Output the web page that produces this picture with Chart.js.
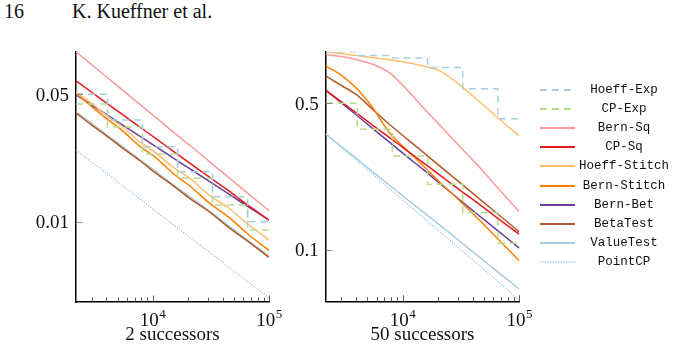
<!DOCTYPE html>
<html>
<head>
<meta charset="utf-8">
<script src="https://cdn.jsdelivr.net/npm/chart.js@4.4.0/dist/chart.umd.min.js"></script>
<style>
  body { margin: 0; width: 675px; height: 350px; background: #fff; position: relative; overflow: hidden; font-family: "Liberation Serif", serif; }
  canvas { position: absolute; top: 0; }
  #c2 { left: 0; }
  #c50 { left: 280px; }
  .hdr { position: absolute; top: 0px; font-size: 20px; color: #111; }
  #legend { position: absolute; left: 538px; top: 80px; }
  .row { height: 19.2px; display: flex; align-items: center; }
  .row span { font-family: "Liberation Mono", monospace; font-size: 12.5px; width: 94px; text-align: center; color: #111; }
</style>
</head>
<body>
<div class="hdr" style="left:4px">16</div>
<div class="hdr" style="left:72px">K. Kueffner et al.</div>
<canvas id="c2" width="290" height="350"></canvas>
<canvas id="c50" width="260" height="350"></canvas>
<div id="legend"></div>
<script>
// legend order
const names = ["Hoeff-Exp", "CP-Exp", "Bern-Sq", "CP-Sq", "Hoeff-Stitch", "Bern-Stitch", "Bern-Bet", "BetaTest", "ValueTest", "PointCP"];
const colors = ["#a6cee3", "#b2df8a", "#fb9a99", "#e31a1c", "#fdbf6f", "#ff7f00", "#6a3d9a", "#b15928", "#a6cee3", "#8ab8d8"];
const dashes = [[7, 5], [7, 5], [], [], [], [], [], [], [], [1, 1.6]];

// x values (number of samples)
const nSteps = [2200, 4096, 8192, 16384, 32768, 65536, 100000];
const nGrid = [2200, 3000, 4000, 5500, 7800, 11000, 15000, 21000, 31000, 45000, 65000, 100000];

// 2 successors
const hoeffExp2 = [0.05, 0.0361, 0.0258, 0.0188, 0.0137, 0.0100, 0.0100];
const cpExp2 = [0.0442, 0.0331, 0.0235, 0.0173, 0.01235, 0.0090, 0.0090];
const bernSq2 = [0.0856, 0.0727, 0.0624, 0.0529, 0.0440, 0.0367, 0.0311, 0.0262, 0.0213, 0.0175, 0.0144, 0.0115];
const cpSq2 = [0.0592, 0.0513, 0.0449, 0.0388, 0.0330, 0.0282, 0.0244, 0.0209, 0.0175, 0.0148, 0.0124, 0.0102];
const hoeffStitch2 = [0.0516, 0.0447, 0.0383, 0.0332, 0.0274, 0.0235, 0.0199, 0.0173, 0.0139, 0.0119, 0.00975, 0.00796];
const bernStitch2 = [0.0506, 0.0428, 0.0369, 0.0316, 0.0259, 0.0221, 0.0184, 0.0157, 0.0126, 0.0106, 0.00862, 0.00695];
const bernBet2 = [0.0497, 0.0437, 0.0388, 0.0340, 0.0294, 0.0255, 0.0224, 0.0195, 0.0166, 0.0142, 0.0122, 0.0102];
const betaTest2 = [0.0395, 0.0339, 0.0297, 0.0254, 0.0216, 0.0182, 0.0158, 0.0134, 0.0113, 0.00932, 0.00786, 0.00638];
const valueTest2 = [0.0401, 0.0346, 0.0301, 0.0259, 0.0219, 0.0186, 0.0160, 0.0137, 0.0114, 0.00951, 0.00796, 0.00649];
const pointCP2 = [0.0247, 0.0212, 0.0185, 0.0158, 0.0133, 0.0112, 0.00966, 0.00820, 0.00678, 0.00565, 0.00472, 0.00382];

// 50 successors
const hoeffExp50 = [0.88, 0.846, 0.823, 0.741, 0.587, 0.422, 0.422];
const cpExp50 = [0.5, 0.376, 0.2805, 0.206, 0.1506, 0.1077, 0.1077];
const bernSq50 = [0.854, 0.835, 0.808, 0.769, 0.697, 0.578, 0.4775, 0.392, 0.311, 0.250, 0.1985, 0.1522];
const cpSq50 = [0.578, 0.508, 0.451, 0.395, 0.342, 0.297, 0.261, 0.227, 0.193, 0.166, 0.142, 0.119];
const hoeffStitch50 = [0.880, 0.863, 0.846, 0.826, 0.807, 0.782, 0.753, 0.712, 0.611, 0.513, 0.428, 0.349];
const bernStitch50 = [0.753, 0.680, 0.593, 0.480, 0.360, 0.298, 0.252, 0.2097, 0.1712, 0.1397, 0.1134, 0.0889];
const bernBet50 = [0.578, 0.502, 0.441, 0.381, 0.325, 0.278, 0.242, 0.207, 0.173, 0.146, 0.124, 0.102];
const betaTest50 = [0.675, 0.608, 0.551, 0.470, 0.395, 0.3375, 0.2927, 0.2505, 0.2096, 0.1763, 0.1488, 0.1220];
const valueTest50 = [0.357, 0.311, 0.274, 0.237, 0.203, 0.174, 0.152, 0.131, 0.110, 0.0929, 0.0789, 0.0650];
const pointCP50 = [0.357, 0.308, 0.269, 0.231, 0.195, 0.166, 0.143, 0.122, 0.101, 0.0847, 0.0710, 0.0578];

// ticks
const xMajor = [10000, 100000];
const xMajorLabels = ["4", "5"];
const xMinor = [3000, 4000, 5000, 6000, 7000, 8000, 9000, 20000, 30000, 40000, 50000, 60000, 70000, 80000, 90000];
const yTicks2 = [0.05, 0.01];
const yTicks50 = [0.5, 0.1];

const serif = '"Liberation Serif", serif';

// ticks, tick labels and axis title, placed with the chart scales
const axisDeco = {
  id: "axisDeco",
  afterDraw(chart, args, opts) {
    const { ctx, chartArea: a } = chart;
    const x = chart.scales.x, y = chart.scales.y;
    ctx.save();
    ctx.strokeStyle = "#333";
    ctx.lineWidth = 0.8;
    xMinor.forEach((v) => {
      const px = Math.round(x.getPixelForValue(v)) + 0.5;
      ctx.beginPath(); ctx.moveTo(px, a.bottom); ctx.lineTo(px, a.bottom - 4.5); ctx.stroke();
    });
    xMajor.forEach((v) => {
      const px = Math.round(x.getPixelForValue(v)) + 0.5;
      ctx.beginPath(); ctx.moveTo(px, a.bottom); ctx.lineTo(px, a.bottom - 6.5); ctx.stroke();
    });
    opts.yTicks.forEach((v) => {
      const py = Math.round(y.getPixelForValue(v)) + 0.5;
      ctx.strokeStyle = "#777";
      ctx.beginPath(); ctx.moveTo(a.left, py); ctx.lineTo(a.left + 7, py); ctx.stroke();
    });
    ctx.fillStyle = "#111";
    ctx.textBaseline = "alphabetic";
    ctx.font = "19px " + serif;
    ctx.textAlign = "right";
    opts.yTicks.forEach((v) => {
      ctx.fillText(String(v), a.left - 7, y.getPixelForValue(v) + 6.5);
    });
    xMajor.forEach((v, i) => {
      const px = x.getPixelForValue(v);
      ctx.font = "19px " + serif;
      const w1 = ctx.measureText("10").width;
      ctx.font = "13px " + serif;
      const w2 = ctx.measureText(xMajorLabels[i]).width;
      const x0 = px - (w1 + w2) / 2;
      ctx.textAlign = "left";
      ctx.font = "19px " + serif;
      ctx.fillText("10", x0, a.bottom + 24);
      ctx.font = "13px " + serif;
      ctx.fillText(xMajorLabels[i], x0 + w1 + 0.5, a.bottom + 16);
    });
    ctx.font = "19px " + serif;
    ctx.textAlign = "center";
    ctx.fillText(opts.title, (a.left + a.right) / 2, a.bottom + 38);
    ctx.restore();
  },
};

function makeChart(id, series, yMin, yMax, yTicks, title, pad) {
  const datasets = names.map((name, i) => ({
    label: name,
    data: (i < 2 ? nSteps : nGrid).map((n, j) => ({ x: n, y: series[i][j] })),
    borderColor: colors[i],
    borderWidth: i === 9 ? 1.2 : 1.5,
    borderDash: dashes[i],
    stepped: i < 2 ? "before" : false,
    cubicInterpolationMode: "monotone",
    pointRadius: 0,
    fill: false,
  }));
  return new Chart(document.getElementById(id), {
    type: "line",
    data: { datasets },
    options: {
      responsive: false,
      animation: false,
      layout: { padding: pad },
      plugins: {
        legend: { display: false },
        tooltip: { enabled: false },
        axisDeco: { yTicks, title },
      },
      scales: {
        x: {
          type: "logarithmic",
          min: 2200,
          max: 100000,
          ticks: { display: false },
          grid: { display: false, drawTicks: false },
          border: { display: true, color: "#000", width: 1.5 },
          afterBuildTicks: (s) => { s.ticks = xMajor.map((v) => ({ value: v })); },
        },
        y: {
          type: "logarithmic",
          min: yMin,
          max: yMax,
          ticks: { display: false },
          grid: { display: false, drawTicks: false },
          border: { display: true, color: "#000", width: 1.5 },
          afterBuildTicks: (s) => { s.ticks = yTicks.map((v) => ({ value: v })); },
        },
      },
    },
    plugins: [axisDeco],
  });
}

makeChart("c2",
  [hoeffExp2, cpExp2, bernSq2, cpSq2, hoeffStitch2, bernStitch2, bernBet2, betaTest2, valueTest2, pointCP2],
  0.00363, 0.0853, yTicks2, "2 successors",
  { left: 76, top: 52, right: 21, bottom: 48 });

makeChart("c50",
  [hoeffExp50, cpExp50, bernSq50, cpSq50, hoeffStitch50, bernStitch50, bernBet50, betaTest50, valueTest50, pointCP50],
  0.0567, 0.881, yTicks50, "50 successors",
  { left: 45.7, top: 51.7, right: 20.7, bottom: 48.3 });

// legend
const legend = document.getElementById("legend");
names.forEach((name, i) => {
  const row = document.createElement("div");
  row.className = "row";
  const dash = dashes[i].length ? ` stroke-dasharray="${dashes[i].join(" ")}"` : "";
  row.innerHTML =
    `<svg width="39" height="6"><line x1="2" y1="3" x2="37" y2="3" stroke="${colors[i]}" stroke-width="${i === 9 ? 1.4 : 2}"${dash}/></svg>` +
    `<span>${name}</span>`;
  legend.appendChild(row);
});
</script>
</body>
</html>
